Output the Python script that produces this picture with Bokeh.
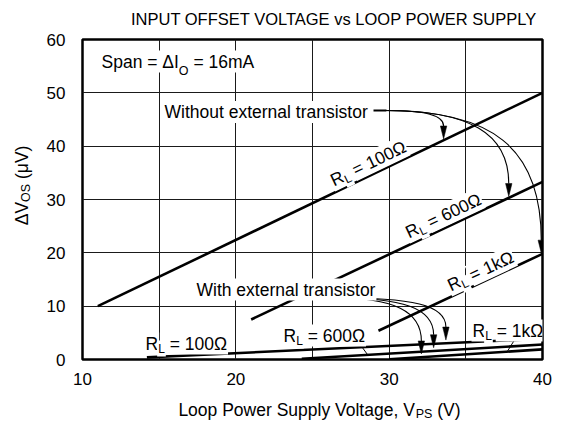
import math
import numpy as np
from bokeh.plotting import figure
from bokeh.layouts import column, row
from bokeh.models import Range1d, FixedTicker, Label
from bokeh.embed import file_html
from bokeh.resources import INLINE

# ---------------- data ----------------
x_ticks = [10, 20, 30, 40]
y_ticks = [0, 10, 20, 30, 40, 50, 60]
x_grid = [15, 20, 25, 30, 35]
y_grid = [10, 20, 30, 40, 50]

# without external transistor
wo_100_v = [11.0, 40.0]
wo_100_dv = [10.0, 50.0]
wo_600_v = [21.0, 40.0]
wo_600_dv = [7.5, 33.3]
wo_1k_v = [29.3, 40.0]
wo_1k_dv = [5.4, 19.8]
# with external transistor
wi_100_v = [14.2, 40.0]
wi_100_dv = [0.4, 3.9]
wi_600_v = [24.3, 40.0]
wi_600_dv = [0.15, 2.8]
wi_1k_v = [30.0, 40.0]
wi_1k_dv = [0.05, 1.9]

title_text = "INPUT OFFSET VOLTAGE vs LOOP POWER SUPPLY"

# ---------------- layout (page pixels) ----------------
TOTAL_W, TOTAL_H = 569, 425
TITLE_H = 30
YLAB_W = 42
FRAME_L, FRAME_R, FRAME_T, FRAME_B = 82, 542, 39, 359
MAIN_H = 364                      # page y 30 .. 394
XLAB_H = TOTAL_H - TITLE_H - MAIN_H
MAIN_W = TOTAL_W - YLAB_W
XPX = (FRAME_R - FRAME_L) / 30.0
YPX = (FRAME_B - FRAME_T) / 60.0
FONT = "Liberation Sans"


def dx(px):  # page pixel -> data x
    return 10 + (px - FRAME_L) / XPX


def dy(py):  # page pixel -> data y
    return (FRAME_B - py) / YPX


p = figure(width=MAIN_W, height=MAIN_H, x_range=Range1d(10, 40), y_range=Range1d(0, 60),
           output_backend="svg", toolbar_location=None, title=None,
           min_border_left=FRAME_L - YLAB_W, min_border_right=TOTAL_W - FRAME_R,
           min_border_top=FRAME_T - TITLE_H, min_border_bottom=TITLE_H + MAIN_H - FRAME_B)
p.background_fill_color = "white"
p.border_fill_color = "white"
p.outline_line_color = "black"
p.outline_line_width = 2.5

p.xaxis.ticker = FixedTicker(ticks=x_ticks)
p.yaxis.ticker = FixedTicker(ticks=y_ticks)
for ax in (p.xaxis, p.yaxis):
    ax.axis_line_color = None
    ax.major_tick_line_color = None
    ax.minor_tick_line_color = None
    ax.major_label_text_font = FONT
    ax.major_label_text_font_size = "17px"
    ax.major_label_text_color = "black"
p.xaxis.major_label_standoff = 7
p.yaxis.major_label_standoff = 11

p.xgrid.ticker = FixedTicker(ticks=x_grid)
p.ygrid.ticker = FixedTicker(ticks=y_grid)
p.grid.grid_line_color = "#1a1a1a"
p.grid.grid_line_width = 1

LW = 2.6
for xs, ys in [(wo_100_v, wo_100_dv), (wo_600_v, wo_600_dv), (wo_1k_v, wo_1k_dv),
               (wi_100_v, wi_100_dv), (wi_600_v, wi_600_dv), (wi_1k_v, wi_1k_dv)]:
    p.line(xs, ys, line_color="black", line_width=LW)


def aux(w, h):
    f = figure(width=w, height=h, x_range=Range1d(0, w), y_range=Range1d(0, h),
               output_backend="svg", toolbar_location=None, min_border=0,
               x_axis_type=None, y_axis_type=None, title=None)
    f.outline_line_color = None
    f.background_fill_color = "white"
    f.border_fill_color = "white"
    return f


title_fig = aux(TOTAL_W, TITLE_H)
ylab_fig = aux(YLAB_W, MAIN_H)
xlab_fig = aux(TOTAL_W, XLAB_H)

# ---------------- text helpers ----------------
CW = {' ': .278, '=': .584, 'Ω': .768, 'k': .5, 'R': .722, 'L': .556, 'O': .778,
      'S': .667, 'P': .667, 'V': .667, 'Δ': .668, 'I': .278, 'm': .833, 'A': .667,
      'p': .556, 'a': .556, 'n': .556, '(': .333, ')': .333, 'μ': .576, ',': .278,
      'o': .556, 'w': .722, 'e': .556, 'r': .333, 'u': .556, 'l': .222, 'y': .5,
      't': .278, 'g': .556, 'W': .944, 'i': .222, 'h': .556, 'x': .5, 's': .5}


def tw(s, fs):
    return sum(CW.get(c, .556) for c in s) * fs


def rich(fig, x, y, parts, fs, angle=0.0, align="left", sub_fs=12, drop=5, bg=True,
         baseline="alphabetic"):
    widths = [tw(t, sub_fs if s else fs) for t, s in parts]
    total = sum(widths)
    a = {"left": 0.0, "center": -total / 2, "right": -total}[align]
    ca, sa = math.cos(angle), math.sin(angle)
    for (t, s), w in zip(parts, widths):
        size = sub_fs if s else fs
        lead = len(t) - len(t.lstrip(" "))
        aa = a + lead * CW[' '] * size
        b = -drop if s else 0.0
        lab = Label(x=x, y=y, text=t.strip(" "), angle=angle,
                    x_offset=aa * ca - b * sa, y_offset=aa * sa + b * ca,
                    text_font=FONT, text_font_size=f"{size}px", text_color="black",
                    text_baseline=baseline, text_align="left")
        if bg:
            lab.background_fill_color = "white"
            lab.padding = 1
        fig.add_layout(lab)
        a += w


def ang(xs, ys):
    return math.atan2((ys[1] - ys[0]) * YPX, (xs[1] - xs[0]) * XPX)


AF = 17.5
# title and axis labels (own small figures, coordinates = pixels from bottom-left)
rich(title_fig, 324, TITLE_H - 18, [(title_text, False)], 16.5, align="center", bg=False,
     baseline="middle")
rich(xlab_fig, 319, TOTAL_H - 409,
     [("Loop Power Supply Voltage, V", False), ("PS", True), (" (V)", False)],
     17.5, align="center", bg=False, sub_fs=12.5, drop=4)
rich(ylab_fig, 21, TITLE_H + MAIN_H - 196, [("ΔV", False), ("OS", True), (" (μV)", False)],
     17.5, angle=math.pi / 2, align="center", bg=False, sub_fs=12.5, drop=4)

# annotations inside the plot
rich(p, dx(100), dy(61), [("Span = ΔI", False), ("O", True), (" = 16mA", False)], AF,
     sub_fs=12.5, drop=9)
rich(p, dx(163), dy(111.5), [("Without external transistor", False)], AF, baseline="middle")
rich(p, dx(195), dy(289), [("With external transistor", False)], AF, baseline="middle")

rich(p, dx(330), dy(181), [("R", False), ("L", True), (" = 100Ω", False)], AF,
     angle=ang(wo_100_v, wo_100_dv), sub_fs=12, drop=5)
rich(p, dx(405), dy(233), [("R", False), ("L", True), (" = 600Ω", False)], AF,
     angle=ang(wo_600_v, wo_600_dv), sub_fs=12, drop=5)
rich(p, dx(447), dy(286), [("R", False), ("L", True), (" = 1kΩ", False)], AF,
     angle=ang(wo_1k_v, wo_1k_dv), sub_fs=12, drop=5)

rich(p, dx(144), dy(343), [("R", False), ("L", True), (" = 100Ω", False)], AF, sub_fs=12, drop=5)
rich(p, dx(282), dy(335), [("R", False), ("L", True), (" = 600Ω", False)], AF, sub_fs=12, drop=5)
rich(p, dx(471), dy(330), [("R", False), ("L", True), (" = 1kΩ", False)], AF, sub_fs=12, drop=5)

# label leader lines (with external transistor)
p.line([dx(356), 28.6], [dy(339), float(np.interp(28.6, wi_600_v, wi_600_dv))],
       line_color="black", line_width=1)
p.line([dx(518), 37.7], [dy(333), float(np.interp(37.7, wi_1k_v, wi_1k_dv))],
       line_color="black", line_width=1)

# ---------------- arrows ----------------
HL = 13 / YPX   # head length (data)
HW = 3.2 / XPX  # head half width (data)


def arrows(x0, y0, tips, gap):
    # tips: list of (tip_x, line_x, line_y, cp1x, cp2y)
    for tx, lx, ly, c1x, c2y in tips:
        ty = float(np.interp(tx, lx, ly)) + gap
        base = ty + HL
        p.bezier(x0=[x0], y0=[y0], x1=[tx], y1=[base], cx0=[c1x], cy0=[y0],
                 cx1=[tx], cy1=[c2y], line_color="black", line_width=1.1)
        p.patch([tx, tx - HW, tx + HW], [ty, base, base], fill_color="black",
                line_color="black", line_width=0.5)


# without external transistor
p.line([dx(373), dx(386)], [dy(110), dy(110)], line_color="black", line_width=2)
arrows(dx(385), dy(110), [
    (33.55, wo_100_v, wo_100_dv, 32.4, 45.8),
    (37.8, wo_600_v, wo_600_dv, 35.2, 42.5),
    (39.92, wo_1k_v, wo_1k_dv, 36.6, 40.0),
], gap=0.25)

# with external transistor
p.line([dx(305), dx(331)], [dy(297), dy(297)], line_color="black", line_width=1.5)
arrows(dx(330), dy(297), [
    (32.1, wi_1k_v, wi_1k_dv, 30.4, 9.0),
    (32.9, wi_600_v, wi_600_dv, 31.0, 9.6),
    (33.7, wi_100_v, wi_100_dv, 31.6, 10.2),
], gap=0.6)

layout = column(title_fig, row(ylab_fig, p), xlab_fig)
open("out.html", "w").write(file_html(layout, INLINE))
